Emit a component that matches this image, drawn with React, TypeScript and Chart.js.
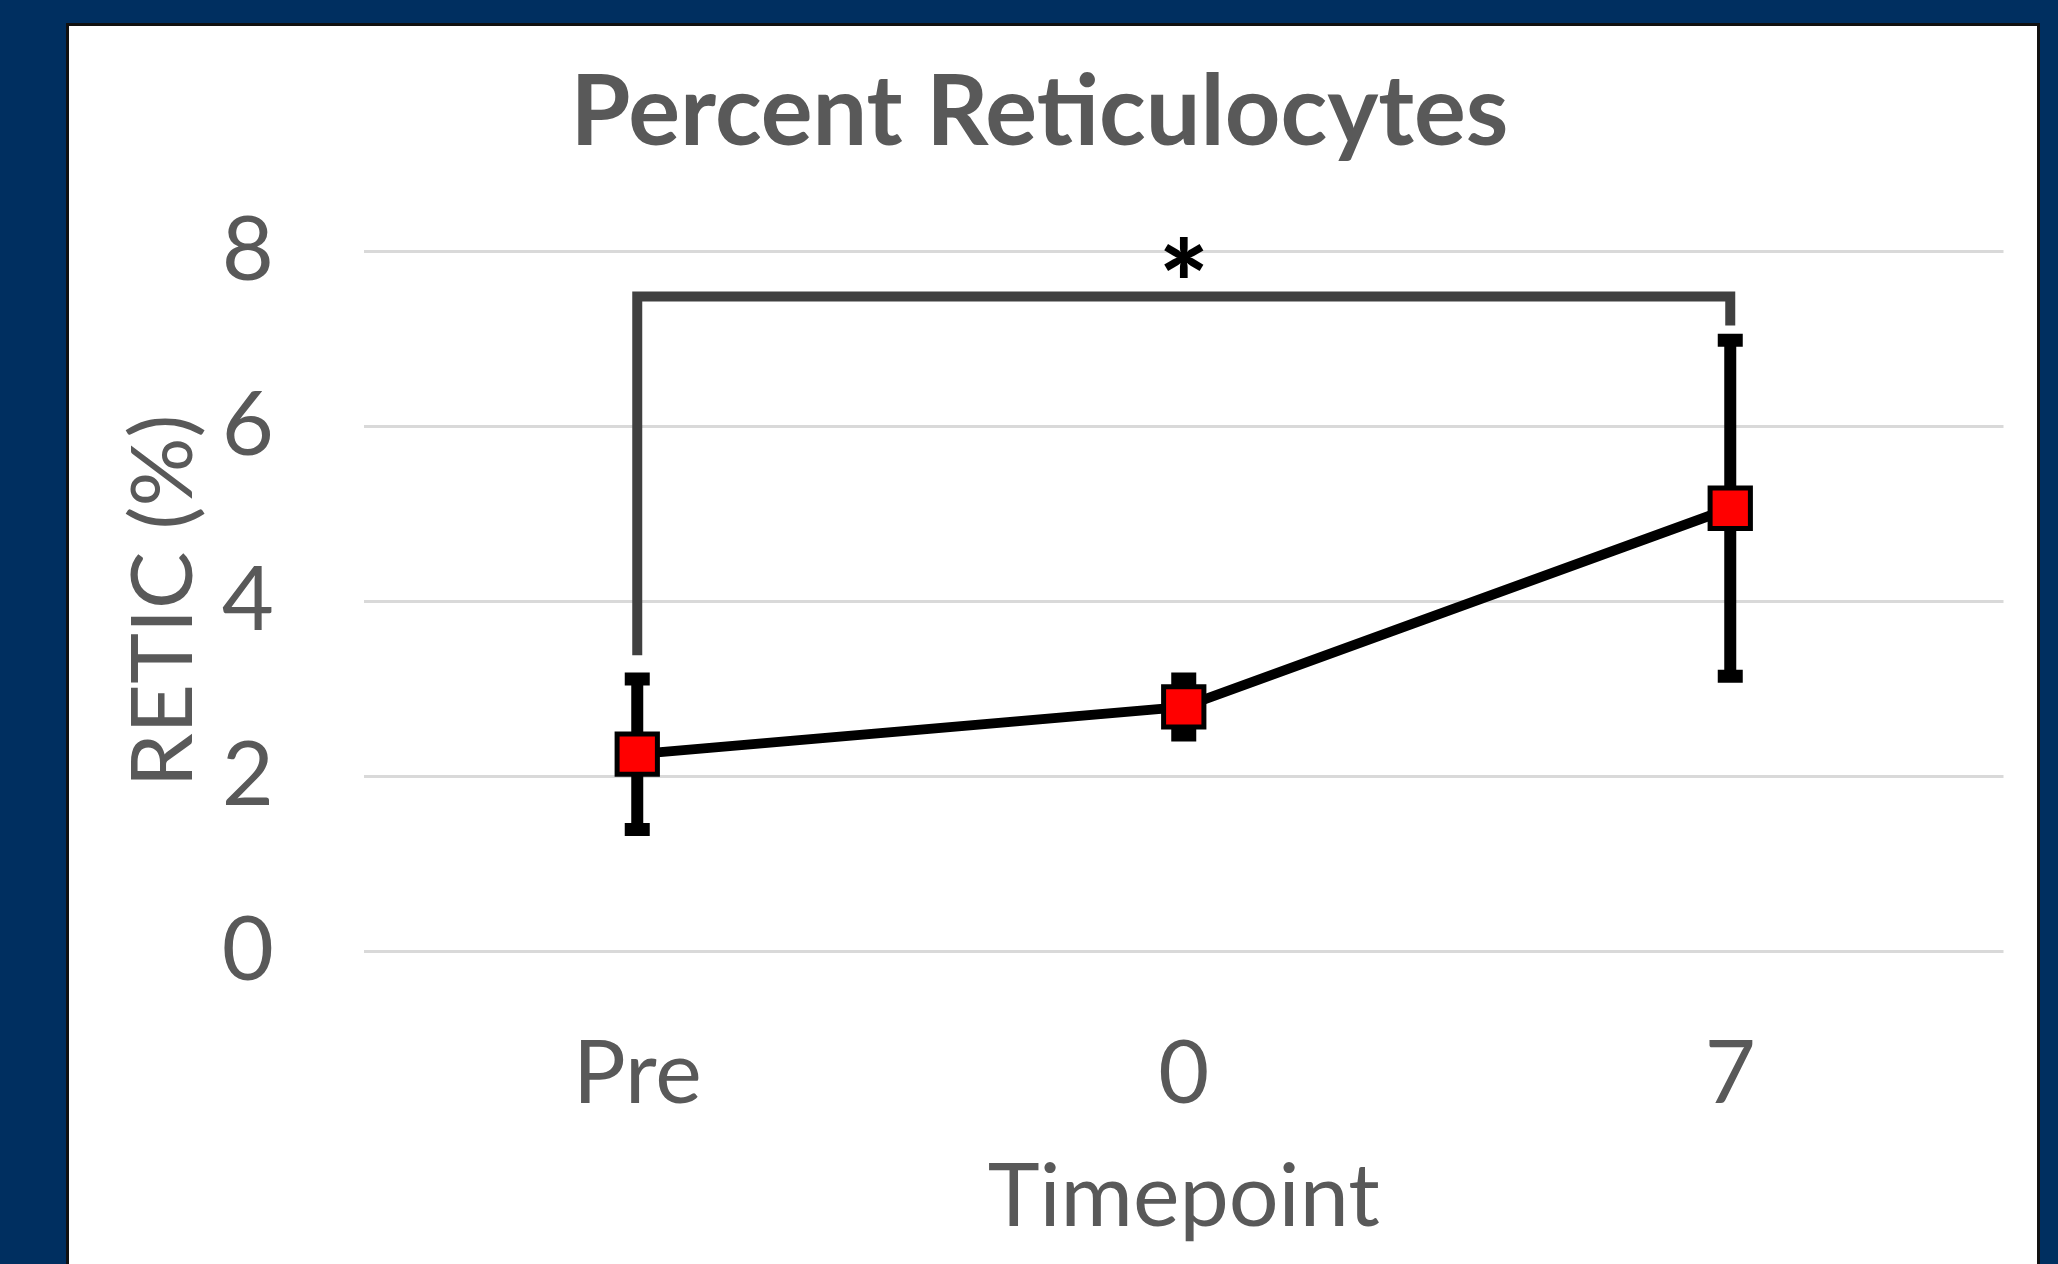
import { useEffect, useRef } from "react";
import { Chart, registerables } from "chart.js";

Chart.register(...registerables);

const categories = ["Pre", "0", "7"];
const meanValues = [2.25, 2.79, 5.06];
const errorValues = [0.86, 0.32, 1.92];
const yTickValues = [0, 2, 4, 6, 8];
const bracketEnds = ["Pre", "7"];
const bracketLevels = [3.38, 7.48, 7.15]; // left foot, top bar, right foot
const sigMarkText = "*";
const sigMarkAt = ["0"];
const sigMarkLevel = [7.13];

const FONT = "Lato, 'Open Sans', sans-serif";
const GREY = "#595959";

const errorBarPlugin = {
  id: "errorBars",
  beforeDatasetsDraw(chart: any) {
    const { ctx, scales } = chart;
    const x = scales.x;
    const y = scales.y;
    ctx.save();
    ctx.strokeStyle = "#000000";
    ctx.lineCap = "butt";
    categories.forEach((_c, i) => {
      const px = x.getPixelForValue(i);
      const top = y.getPixelForValue(meanValues[i] + errorValues[i]);
      const bot = y.getPixelForValue(meanValues[i] - errorValues[i]);
      ctx.lineWidth = 12;
      ctx.beginPath();
      ctx.moveTo(px, top);
      ctx.lineTo(px, bot);
      ctx.stroke();
      ctx.lineWidth = 13;
      ctx.beginPath();
      ctx.moveTo(px - 12.5, top);
      ctx.lineTo(px + 12.5, top);
      ctx.moveTo(px - 12.5, bot);
      ctx.lineTo(px + 12.5, bot);
      ctx.stroke();
    });
    ctx.restore();
  },
};

const bracketPlugin = {
  id: "sigBracket",
  beforeDatasetsDraw(chart: any) {
    const { ctx, scales } = chart;
    const x = scales.x;
    const y = scales.y;
    const xl = x.getPixelForValue(categories.indexOf(bracketEnds[0]));
    const xr = x.getPixelForValue(categories.indexOf(bracketEnds[1]));
    ctx.save();
    ctx.strokeStyle = "#404040";
    ctx.lineWidth = 10;
    ctx.lineJoin = "miter";
    ctx.lineCap = "butt";
    ctx.beginPath();
    ctx.moveTo(xl, y.getPixelForValue(bracketLevels[0]));
    ctx.lineTo(xl, y.getPixelForValue(bracketLevels[1]));
    ctx.lineTo(xr, y.getPixelForValue(bracketLevels[1]));
    ctx.lineTo(xr, y.getPixelForValue(bracketLevels[2]));
    ctx.stroke();
    ctx.fillStyle = "#000000";
    ctx.font = `900 118px ${FONT}`;
    ctx.textAlign = "center";
    ctx.textBaseline = "alphabetic";
    sigMarkAt.forEach((c, i) => {
      ctx.fillText(
        sigMarkText,
        x.getPixelForValue(categories.indexOf(c)),
        y.getPixelForValue(sigMarkLevel[i])
      );
    });
    ctx.restore();
  },
};

export default function App() {
  const canvasRef = useRef<HTMLCanvasElement | null>(null);

  useEffect(() => {
    if (!canvasRef.current) return;
    const chart = new Chart(canvasRef.current, {
      type: "line",
      data: {
        labels: categories,
        datasets: [
          {
            data: meanValues,
            borderColor: "#000000",
            borderWidth: 10,
            pointStyle: "rect",
            pointRadius: 28.5,
            pointHoverRadius: 28.5,
            pointBackgroundColor: "#ff0000",
            pointBorderColor: "#000000",
            pointBorderWidth: 5,
            tension: 0,
            fill: false,
          },
        ],
      },
      options: {
        responsive: false,
        animation: false,
        devicePixelRatio: 1,
        layout: { padding: { left: 0, right: 27, top: 0, bottom: 0 } },
        plugins: {
          legend: { display: false },
          tooltip: { enabled: false },
          title: {
            display: true,
            text: "Percent Reticulocytes",
            color: GREY,
            font: { family: FONT, size: 97, weight: "bold", lineHeight: 1.2 },
            padding: { top: 30, bottom: 78.6 },
          },
        },
        scales: {
          x: {
            type: "category",
            offset: true,
            grid: { display: false, drawTicks: false },
            border: { display: false },
            ticks: {
              color: GREY,
              font: { family: FONT, size: 88, lineHeight: 1.2 },
              padding: 71,
            },
            title: {
              display: true,
              text: "Timepoint",
              color: GREY,
              font: { family: FONT, size: 88, lineHeight: 1.2 },
              padding: { top: 0, bottom: 14 },
            },
            afterFit: (s: any) => {
              s.height = 313;
            },
          },
          y: {
            min: 0,
            max: 8,
            afterBuildTicks: (s: any) => {
              s.ticks = yTickValues.map((v) => ({ value: v }));
            },
            grid: { color: "#d9d9d9", lineWidth: 3, drawTicks: false },
            border: { display: false },
            ticks: {
              color: GREY,
              font: { family: FONT, size: 90, lineHeight: 1.2 },
              padding: 90,
            },
            title: {
              display: true,
              text: "RETIC (%)",
              color: GREY,
              font: { family: FONT, size: 86, lineHeight: 1.2 },
              padding: { top: 44, bottom: 0 },
            },
            afterFit: (s: any) => {
              s.width = 295;
            },
          },
        },
      },
      plugins: [bracketPlugin, errorBarPlugin],
    });
    return () => chart.destroy();
  }, []);

  return (
    <div
      style={{
        position: "fixed",
        left: 0,
        top: 0,
        width: 2058,
        height: 1264,
        background: "#002F60",
        overflow: "hidden",
      }}
    >
      <div
        style={{
          position: "absolute",
          left: 66,
          top: 23,
          width: 1974,
          height: 1320,
          boxSizing: "border-box",
          border: "3px solid #111111",
          background: "#ffffff",
        }}
      >
        <canvas
          ref={canvasRef}
          width={1968}
          height={1238}
          style={{ position: "absolute", left: 0, top: 0, width: 1968, height: 1238 }}
        />
      </div>
    </div>
  );
}
